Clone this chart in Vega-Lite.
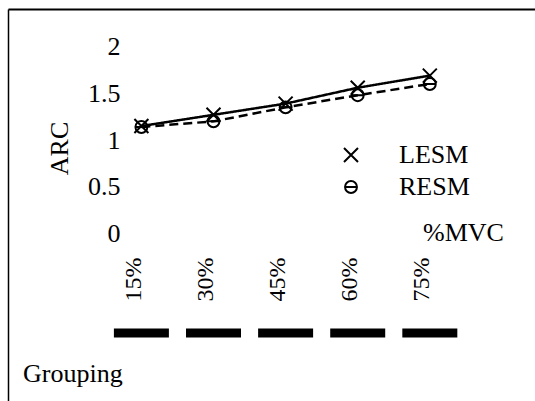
{
  "$schema": "https://vega.github.io/schema/vega-lite/v6.json",
  "width": 527,
  "height": 392,
  "autosize": {"type": "none"},
  "padding": {"left": 8, "top": 9, "right": 0, "bottom": 0},
  "background": "white",
  "title": {
    "text": "Grouping",
    "orient": "bottom",
    "anchor": "start",
    "frame": "group",
    "font": "Liberation Serif",
    "fontSize": 26,
    "fontWeight": "normal",
    "color": "black",
    "baseline": "alphabetic",
    "dx": 15,
    "offset": -19
  },
  "datasets": {
    "arc": [
      {"mvc": 15, "series": "LESM", "arc": 1.15},
      {"mvc": 30, "series": "LESM", "arc": 1.27},
      {"mvc": 45, "series": "LESM", "arc": 1.39},
      {"mvc": 60, "series": "LESM", "arc": 1.56},
      {"mvc": 75, "series": "LESM", "arc": 1.69},
      {"mvc": 15, "series": "RESM", "arc": 1.14},
      {"mvc": 30, "series": "RESM", "arc": 1.2},
      {"mvc": 45, "series": "RESM", "arc": 1.35},
      {"mvc": 60, "series": "RESM", "arc": 1.48},
      {"mvc": 75, "series": "RESM", "arc": 1.6}
    ],
    "groups": [
      {"mvc": 15}, {"mvc": 30}, {"mvc": 45}, {"mvc": 60}, {"mvc": 75}
    ]
  },
  "layer": [
    {
      "data": {"name": "arc"},
      "mark": {"type": "line", "color": "black", "strokeWidth": 2.5},
      "encoding": {
        "x": {
          "field": "mvc", "type": "quantitative",
          "scale": {"domain": [-12.75, 96.88], "nice": false, "zero": false},
          "axis": {
            "orient": "bottom", "offset": -148, "domain": false, "ticks": false,
            "values": [15, 30, 45, 60, 75],
            "labelExpr": "datum.value + '%'",
            "labelAngle": -90, "labelPadding": 4, "labelOffset": -8,
            "labelOverlap": false, "labelFlush": false,
            "labelFont": "Liberation Serif", "labelFontSize": 24, "labelColor": "black",
            "title": "%MVC", "titleFont": "Liberation Serif", "titleFontSize": 26,
            "titleFontWeight": "normal", "titleColor": "black",
            "titleX": 455, "titleY": -13, "titleBaseline": "alphabetic", "titleAlign": "center"
          }
        },
        "y": {
          "field": "arc", "type": "quantitative",
          "scale": {"domain": [-1.794, 2.403], "nice": false, "zero": false},
          "axis": {
            "orient": "left", "offset": -116, "domain": false, "ticks": false,
            "values": [0, 0.5, 1, 1.5, 2], "format": ".1~f",
            "labelPadding": 4, "labelFont": "Liberation Serif", "labelFontSize": 26,
            "labelColor": "black",
            "title": "ARC", "titleFont": "Liberation Serif", "titleFontSize": 26,
            "titleFontWeight": "normal", "titleColor": "black",
            "titleX": -57, "titleY": 139, "titleBaseline": "alphabetic", "titleAngle": -90
          }
        },
        "detail": {"field": "series", "type": "nominal"},
        "strokeDash": {
          "condition": {"test": "datum.series === 'RESM'", "value": [9, 5]},
          "value": [1, 0]
        }
      }
    },
    {
      "data": {"name": "arc"},
      "mark": {"type": "point", "filled": false, "color": "black", "strokeWidth": 2, "size": 196, "opacity": 1},
      "encoding": {
        "x": {
          "field": "mvc", "type": "quantitative",
          "axis": {"orient": "top", "offset": 0, "domain": true, "domainColor": "black", "domainWidth": 2, "ticks": false, "labels": false, "title": null}
        },
        "y": {
          "field": "arc", "type": "quantitative",
          "axis": {"orient": "left", "offset": 0, "domain": true, "domainColor": "black", "domainWidth": 1.5, "ticks": false, "labels": false, "title": null}
        },
        "shape": {
          "field": "series", "type": "nominal",
          "scale": {
            "domain": ["LESM", "RESM"],
            "range": [
              "M-1,-1L1,1M-1,1L1,-1",
              "M-0.85,0A0.85,0.85 0 1,0 0.85,0A0.85,0.85 0 1,0 -0.85,0M-0.85,0H0.85"
            ]
          },
          "legend": {
            "orient": "none", "legendX": 330, "legendY": 133,
            "title": null, "padding": 0,
            "symbolSize": 196, "symbolStrokeWidth": 2,
            "symbolStrokeColor": "black", "symbolFillColor": "transparent",
            "labelFont": "Liberation Serif", "labelFontSize": 26, "labelColor": "black",
            "labelOffset": 35, "rowPadding": 6
          }
        }
      }
    },
    {
      "data": {"name": "groups"},
      "mark": {"type": "tick", "orient": "horizontal", "thickness": 9, "size": 55, "color": "black", "opacity": 1},
      "encoding": {
        "x": {"field": "mvc", "type": "quantitative", "axis": null},
        "y": {"datum": -1.066, "type": "quantitative", "axis": null}
      }
    }
  ],
  "resolve": {"axis": {"x": "independent", "y": "independent"}},
  "config": {
    "view": {"stroke": null},
    "axis": {"grid": false},
    "font": "Liberation Serif"
  }
}
